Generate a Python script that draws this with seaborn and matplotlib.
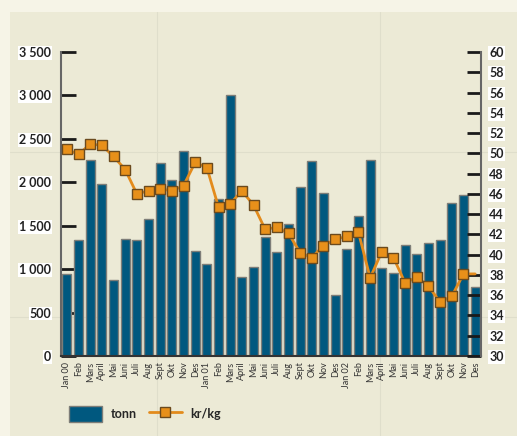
import matplotlib
matplotlib.use("Agg")
import matplotlib.pyplot as plt
import pandas as pd
import seaborn as sns
from matplotlib.lines import Line2D
from matplotlib.patches import Patch, Rectangle

months = ["Jan 00", "Feb", "Mars", "April", "Mai", "Juni", "Juli", "Aug", "Sept", "Okt", "Nov", "Des",
          "Jan 01", "Feb", "Mars", "April", "Mai", "Juni", "Juli", "Aug", "Sept", "Okt", "Nov", "Des",
          "Jan 02", "Feb", "Mars", "April", "Mai", "Juni", "Juli", "Aug", "Sept", "Okt", "Nov", "Des"]
tonn = [940, 1335, 2255, 1985, 875, 1345, 1340, 1575, 2220, 2025, 2355, 1205,
        1060, 1805, 3005, 915, 1020, 1375, 1200, 1520, 1940, 2245, 1875, 705,
        1235, 1610, 2255, 1010, 955, 1275, 1170, 1300, 1340, 1765, 1850, 800]
kr_kg = [50.4, 49.9, 50.9, 50.8, 49.7, 48.4, 46.0, 46.3, 46.5, 46.3, 46.8, 49.1,
         48.6, 44.7, 45.0, 46.3, 44.9, 42.5, 42.7, 42.1, 40.2, 39.7, 40.9, 41.5,
         41.8, 42.2, 37.7, 40.3, 39.7, 37.2, 37.8, 36.9, 35.3, 35.9, 38.1, 38.1]
left_ticks = [0, 500, 1000, 1500, 2000, 2500, 3000, 3500]
right_ticks = list(range(30, 61, 2))

BAR = "#00587f"
ORANGE = "#e38b1c"
PANEL = "#ecead6"
OUTER = "#f6f4e7"

df = pd.DataFrame({"pos": range(len(months)), "tonn": tonn, "kr_kg": kr_kg})

sns.set_style("white")
plt.rcParams["font.family"] = ["Lato", "DejaVu Sans"]

fig = plt.figure(figsize=(5.17, 4.36), dpi=100)
fig.patch.set_facecolor(OUTER)
fig.add_artist(Rectangle((10 / 517, 0), 1, 1 - 12 / 436, transform=fig.transFigure,
                         facecolor=PANEL, edgecolor="none", zorder=-5))
# faint page grid lines
for yy in [152, 317]:
    fig.add_artist(Line2D([10 / 517, 1], [1 - yy / 436] * 2, transform=fig.transFigure,
                          color="#dfdecb", lw=0.8, zorder=-4))
for xx in [157, 380]:
    fig.add_artist(Line2D([xx / 517] * 2, [0, 1 - 12 / 436], transform=fig.transFigure,
                          color="#dfdecb", lw=0.8, zorder=-4))

ax = fig.add_axes([61 / 517, 80 / 436, 420 / 517, 304 / 436])
ax.set_facecolor("none")
sns.barplot(data=df, x="pos", y="tonn", color=BAR, saturation=1, width=0.78,
            edgecolor="#7d7d78", linewidth=1.0, ax=ax)
ax.set_xlim(-0.5, len(months) - 0.5)
ax.set_ylim(0, 3500)
ax.set_xlabel("")
ax.set_ylabel("")
ax.set_yticks(left_ticks)
ax.set_yticklabels([f"{v:,}".replace(",", " ") for v in left_ticks])
ax.set_xticks(range(len(months)))
ax.set_xticklabels(months, rotation=90, fontsize=6.5, color="#333333")
ax.tick_params(axis="x", length=0, pad=4)
ax.set_xticks([i + 0.5 for i in range(len(months) - 1)], minor=True)
ax.tick_params(axis="x", which="minor", direction="in", length=7, width=2.2, color="#1a1a1a")
ax.xaxis.set_zorder(2.5)
ax.tick_params(axis="y", direction="in", length=11, width=2, color="#1a1a1a",
               labelsize=9, pad=7, labelcolor="#222222")
for lab in ax.get_yticklabels():
    lab.set_fontweight("bold")
    lab.set_bbox(dict(facecolor="white", edgecolor="none", pad=0.6))
for side in ["top", "right"]:
    ax.spines[side].set_visible(False)
ax.spines["left"].set_color("#666666")
ax.spines["left"].set_linewidth(1.5)
ax.spines["bottom"].set_color("#333333")
ax.spines["bottom"].set_linewidth(1.5)

ax2 = ax.twinx()
sns.lineplot(data=df, x="pos", y="kr_kg", color=ORANGE, lw=2, marker="s", markersize=7,
             markerfacecolor="#e8901a", markeredgecolor="#6b4a1e", markeredgewidth=1,
             markevery=list(range(len(months) - 1)), ax=ax2)
ax2.set_ylim(30, 60)
ax2.set_xlim(-0.5, len(months) - 0.5)
ax2.set_xlabel("")
ax2.set_ylabel("")
ax2.set_yticks(right_ticks)
ax2.tick_params(axis="y", direction="in", length=10, width=2, color="#1a1a1a",
                labelsize=9, pad=6, labelcolor="#222222")
for lab in ax2.get_yticklabels():
    lab.set_fontweight("bold")
    lab.set_bbox(dict(facecolor="white", edgecolor="none", pad=0.6))
for side in ["top", "left", "bottom"]:
    ax2.spines[side].set_visible(False)
ax2.spines["right"].set_color("#666666")
ax2.spines["right"].set_linewidth(1.5)

handles = [
    Patch(facecolor=BAR, edgecolor="#7d7d78", label="tonn"),
    Line2D([0], [0], color=ORANGE, lw=2, marker="s", markersize=7,
           markerfacecolor="#e8901a", markeredgecolor="#6b4a1e", label="kr/kg"),
]
fig.legend(handles=handles, loc="center left", bbox_to_anchor=(58 / 517, 1 - 414 / 436),
           ncol=2, frameon=False, handlelength=2.6, handleheight=1.5, columnspacing=1.0,
           handletextpad=0.7, prop={"weight": "bold", "size": 9})

fig.savefig("out.png", dpi=100, facecolor=fig.get_facecolor())
